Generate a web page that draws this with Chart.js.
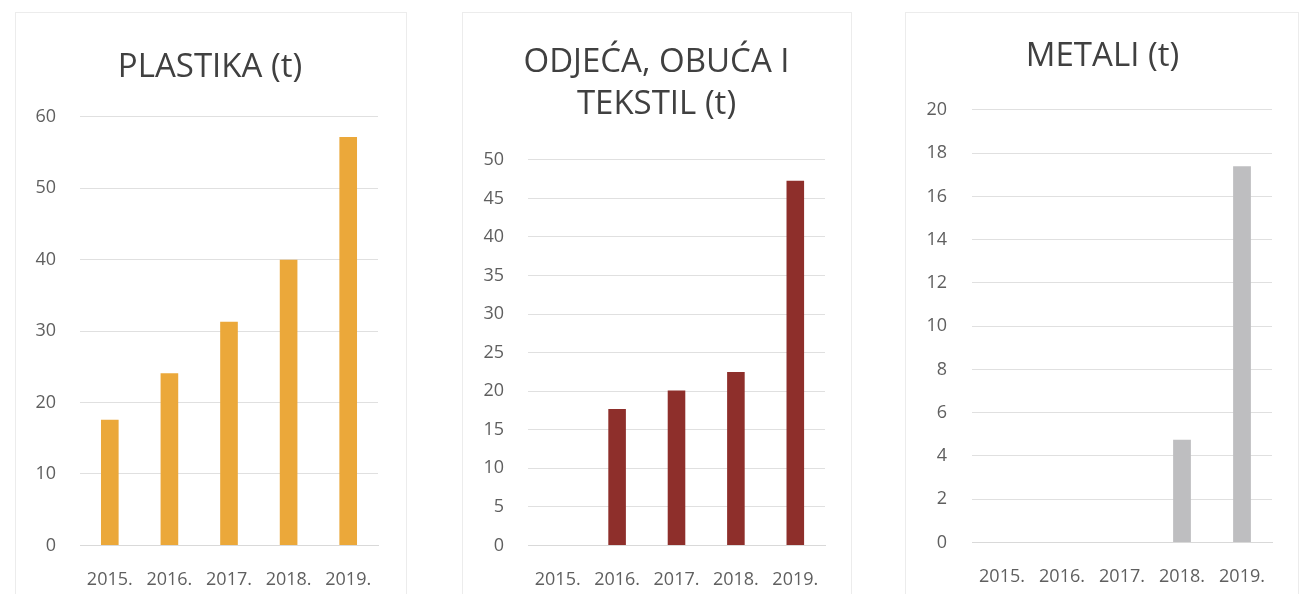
<!DOCTYPE html>
<html>
<head>
<meta charset="utf-8">
<script src="https://cdn.jsdelivr.net/npm/chart.js@4"></script>
<style>
    body { margin: 0; background: #fff; width: 1307px; height: 594px; overflow: hidden; position: relative; font-family: "Open Sans", sans-serif; }
    .panel { position: absolute; border: 1px solid #ececec; box-sizing: border-box; }
    .box { position: absolute; top: 0; height: 612px; }
</style>
</head>
<body>
<div class="panel" style="left:15px; top:12px; width:392px; height:590px;"></div>
<div class="panel" style="left:462px; top:12px; width:390px; height:590px;"></div>
<div class="panel" style="left:905px; top:12px; width:394px; height:590px;"></div>

<div class="box" style="left:20px; width:380px;"><canvas id="chart-plastika"></canvas></div>
<div class="box" style="left:470px; width:380px;"><canvas id="chart-odjeca"></canvas></div>
<div class="box" style="left:915px; width:377px;"><canvas id="chart-metali"></canvas></div>

<script>
const godine = ['2015.', '2016.', '2017.', '2018.', '2019.'];
const plastika = [17.6, 24.1, 31.3, 40, 57.2];
const odjeca = [0, 17.7, 20.1, 22.5, 47.3];
const metali = [0, 0, 0, 4.75, 17.4];

const FONT = '"Open Sans", Lato, sans-serif';

// pomak naslova udesno (naslov u originalu nije centriran na cijelo platno)
const titleShift = {
    id: 'titleShift',
    afterLayout(chart, args, o) {
        chart.titleBlock.left += o.dx;
        chart.titleBlock.right += o.dx;
    }
};

const randerChart = (id, title, data, color, opts) => {
    const ctx = document.getElementById(id).getContext('2d');
    new Chart(ctx, {
        type: 'bar',
        plugins: [titleShift],
        data: {
            labels: godine,
            datasets: [{
                data: data,
                backgroundColor: color,
                categoryPercentage: 0.8,
                barPercentage: 0.37
            }]
        },
        options: {
            responsive: true,
            maintainAspectRatio: false,
            animation: false,
            layout: { padding: { top: opts.top, right: opts.right, bottom: opts.bottom, left: 0 } },
            plugins: {
                legend: { display: false },
                tooltip: { enabled: false },
                titleShift: { dx: opts.dx },
                title: {
                    display: true,
                    text: title,
                    color: '#404040',
                    font: { family: FONT, size: 33, weight: 'normal', lineHeight: 1.27 },
                    padding: { top: 0, bottom: opts.titleGap }
                }
            },
            scales: {
                x: {
                    grid: { display: false, drawTicks: false },
                    border: { display: true, color: '#d9d9d9' },
                    ticks: { color: '#5f5f5f', font: { family: FONT, size: 18 }, padding: opts.tickPad, maxRotation: 0 }
                },
                y: {
                    min: 0,
                    max: opts.max,
                    afterFit: (scale) => { scale.width = opts.axisWidth; },
                    grid: { color: '#e0e0e0', drawTicks: false },
                    border: { display: false },
                    ticks: { stepSize: opts.step, color: '#5f5f5f', font: { family: FONT, size: 18 }, padding: opts.yPad }
                }
            }
        }
    });
}

randerChart('chart-plastika', 'PLASTIKA (t)', plastika, '#EBA83A',
    { top: 47, right: 22, bottom: -3, dx: 11, titleGap: 28, tickPad: 24, max: 60, step: 10, axisWidth: 60, yPad: 24 });
randerChart('chart-odjeca', ['ODJEĆA, OBUĆA I', 'TEKSTIL (t)'], odjeca, '#8E2F2B',
    { top: 42, right: 25, bottom: -3, dx: 9, titleGap: 34, tickPad: 24, max: 50, step: 5, axisWidth: 58, yPad: 24 });
randerChart('chart-metali', 'METALI (t)', metali, '#BEBEC0',
    { top: 36, right: 20, bottom: 0, dx: 9, titleGap: 32, tickPad: 24, max: 20, step: 2, axisWidth: 57, yPad: 25 });
</script>
</body>
</html>
